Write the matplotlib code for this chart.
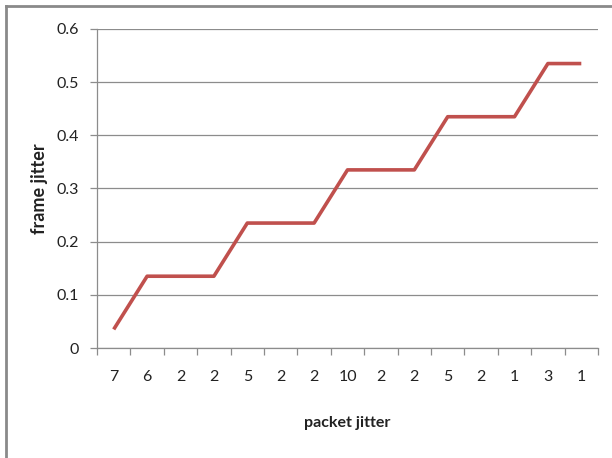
import numpy as np
import matplotlib
matplotlib.use("Agg")
import matplotlib.pyplot as plt
from matplotlib.lines import Line2D

# packet jitter categories and frame jitter values
PACKET_JITTER = ["7", "6", "2", "2", "5", "2", "2", "10", "2", "2", "5", "2", "1", "3", "1"]
FRAME_JITTER = [0.035, 0.135, 0.135, 0.135, 0.235, 0.235, 0.235, 0.335,
                0.335, 0.335, 0.435, 0.435, 0.435, 0.535, 0.535]
YTICKS = [0, 0.1, 0.2, 0.3, 0.4, 0.5, 0.6]
YTICKLBL = ["0", "0.1", "0.2", "0.3", "0.4", "0.5", "0.6"]

GRIDCOL = "#8c8c8c"
LINECOL = "#c0504d"
FONT = ["Lato", "DejaVu Sans"]

plt.rcParams["font.family"] = FONT

fig = plt.figure(figsize=(6.12, 4.58), dpi=100)
ax = fig.add_axes([97 / 612, 1 - 348 / 458, (598 - 97) / 612, (348 - 29) / 458])

x = np.arange(len(PACKET_JITTER))
ax.plot(x, FRAME_JITTER, color=LINECOL, linewidth=2.6, solid_capstyle="butt")

ax.set_xlim(-0.5, len(PACKET_JITTER) - 0.5)
ax.set_ylim(0, 0.6)

ax.set_yticks(YTICKS)
ax.set_yticklabels(YTICKLBL, size=11.5, color="#222222")
ax.yaxis.grid(True, color=GRIDCOL, linewidth=0.9)
ax.set_axisbelow(True)

ax.set_xticks(x)
ax.set_xticklabels(PACKET_JITTER, size=11.5, color="#222222")
ax.set_xticks(np.arange(-0.5, len(PACKET_JITTER)), minor=True)
ax.tick_params(axis="x", which="major", length=0, pad=16)
ax.tick_params(axis="x", which="minor", length=5, color=GRIDCOL, width=0.9)
ax.tick_params(axis="y", length=5, color=GRIDCOL, width=0.9, pad=8)

for s in ["top", "right"]:
    ax.spines[s].set_visible(False)
for s in ["left", "bottom"]:
    ax.spines[s].set_color(GRIDCOL)
    ax.spines[s].set_linewidth(0.9)

fig.text(347 / 612, 1 - 423 / 458, "packet jitter", ha="center", va="center",
         size=11.5, weight="bold", color="#222222")
fig.text(39 / 612, 1 - 189 / 458, "frame jitter", ha="center", va="center",
         size=13, weight="bold", rotation="vertical", color="#222222")

# outer frame (only top and left edges are visible in the crop)
fig.add_artist(Line2D([5.5 / 612, 1], [1 - 5.5 / 458, 1 - 5.5 / 458],
                      transform=fig.transFigure, color="#8a8a8a", linewidth=2))
fig.add_artist(Line2D([5.5 / 612, 5.5 / 612], [0, 1 - 5.5 / 458],
                      transform=fig.transFigure, color="#8a8a8a", linewidth=2))

fig.savefig("out.png", dpi=100)
